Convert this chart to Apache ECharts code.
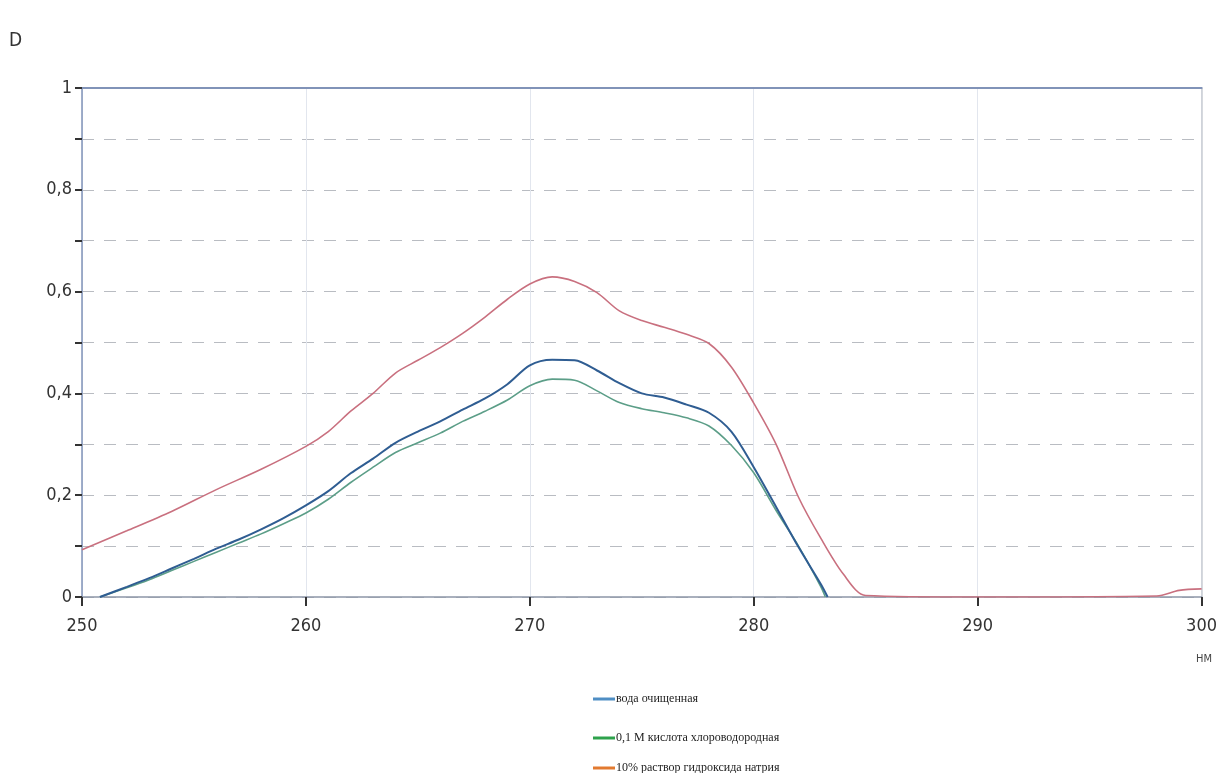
<!DOCTYPE html>
<html>
<head>
<meta charset="utf-8">
<script src="https://cdn.jsdelivr.net/npm/echarts@6/dist/echarts.min.js"></script>
<style>html,body{margin:0;padding:0;background:#fff}#c{width:1220px;height:773px}</style>
</head>
<body>
<div id="c"></div>
<script>
// Series names (legend)
const seriesNames = ['вода очищенная', '0,1 М кислота хлороводородная', '10% раствор гидроксида натрия'];

// Wavelengths (nm) and optical density D for each series
const waterX = [250.8, 252, 253, 254, 255, 256, 257, 258, 259, 260, 261, 262, 263, 264, 265, 266, 267, 268, 269, 270, 271, 272, 273, 274, 275, 276, 277, 278, 279, 280, 281, 282, 283, 283.3];
const waterY = [0, 0.020, 0.037, 0.056, 0.075, 0.095, 0.113, 0.133, 0.155, 0.180, 0.208, 0.243, 0.272, 0.303, 0.325, 0.345, 0.368, 0.390, 0.418, 0.455, 0.466, 0.465, 0.445, 0.420, 0.400, 0.392, 0.378, 0.362, 0.325, 0.255, 0.177, 0.098, 0.025, 0];

const hclX = [250.8, 252, 253, 254, 255, 256, 257, 258, 259, 260, 261, 262, 263, 264, 265, 266, 267, 268, 269, 270, 271, 272, 273, 274, 275, 276, 277, 278, 279, 280, 281, 282, 283, 283.2];
const hclY = [0, 0.018, 0.034, 0.052, 0.070, 0.088, 0.106, 0.124, 0.144, 0.165, 0.192, 0.225, 0.255, 0.284, 0.303, 0.322, 0.345, 0.365, 0.387, 0.415, 0.428, 0.426, 0.405, 0.382, 0.370, 0.362, 0.352, 0.336, 0.298, 0.244, 0.170, 0.100, 0.020, 0];

const naohX = [250, 252, 254, 256, 258, 260, 261, 262, 263, 264, 265, 266, 267, 268, 269, 270, 271, 272, 273, 274, 275, 276, 277, 278, 279, 280, 281, 282, 283, 284, 285, 290, 298, 299, 300];
const naohY = [0.093, 0.130, 0.168, 0.211, 0.251, 0.296, 0.325, 0.365, 0.400, 0.440, 0.465, 0.490, 0.518, 0.550, 0.585, 0.615, 0.629, 0.620, 0.598, 0.562, 0.543, 0.530, 0.516, 0.498, 0.452, 0.381, 0.300, 0.196, 0.115, 0.045, 0.003, 0, 0.002, 0.013, 0.016];

// Axis ticks
const xTicks = [250, 260, 270, 280, 290, 300];
const yTickLabels = ['0', '0,2', '0,4', '0,6', '0,8', '1'];

const lineColors = ['#2f5d92', '#5c9e88', '#c9707f'];
const legendColors = ['#4f8ec4', '#2ea24c', '#e27a30'];

const pairs = (xs, ys) => xs.map((x, i) => [x, ys[i]]);
const axisFont = "'DejaVu Sans Condensed', 'Liberation Sans Narrow', 'DejaVu Sans', sans-serif";

const chart = echarts.init(document.getElementById('c'), null, {renderer: 'canvas'});
const legendTops = [688, 727, 757];
chart.setOption({
  backgroundColor: '#ffffff',
  animation: false,
  grid: {left: 82, right: 13, top: 88, bottom: 176, containLabel: false},
  graphic: [
    {type: 'text', left: 9, top: 32, style: {text: 'D', font: "19px " + axisFont, fill: '#333'}},
    {type: 'text', left: 1196, top: 654, style: {text: 'НМ', font: "11px " + axisFont, fill: '#444'}}
  ],
  legend: seriesNames.map((n, i) => ({
    left: 588, top: legendTops[i], orient: 'vertical',
    icon: 'rect', itemWidth: 22, itemHeight: 3, itemGap: 4,
    textStyle: {fontFamily: "'Liberation Serif', serif", fontSize: 12, color: '#222', padding: [0, 0, 0, -4]},
    data: [{name: n, itemStyle: {color: legendColors[i]}}]
  })),
  xAxis: [{
    type: 'value', min: 250, max: 300, interval: 10,
    axisLine: {show: true, lineStyle: {color: '#8d97a8', width: 1.5}},
    axisTick: {show: true, length: 9, lineStyle: {color: '#333', width: 2}},
    axisLabel: {fontFamily: axisFont, fontSize: 18, color: '#333', margin: 20,
      formatter: v => xTicks.includes(v) ? String(v) : ''},
    splitLine: {show: true, lineStyle: {color: '#e2e6ee', width: 1, type: 'solid'}}
  }, {
    type: 'value', min: 250, max: 300, interval: 10, position: 'top',
    axisLine: {show: true, onZero: false, lineStyle: {color: '#8193b8', width: 2}},
    axisTick: {show: false}, axisLabel: {show: false}, splitLine: {show: false}
  }],
  yAxis: [{
    type: 'value', min: 0, max: 1, interval: 0.1,
    axisLine: {show: true, lineStyle: {color: '#8193b8', width: 1.5}},
    axisTick: {show: true, length: 7, lineStyle: {color: '#333', width: 2}},
    axisLabel: {fontFamily: axisFont, fontSize: 18, color: '#333', margin: 10,
      formatter: v => {
        const k = Math.round(v * 10);
        return k % 2 ? '' : yTickLabels[k / 2];
      }},
    splitLine: {show: true, lineStyle: {color: '#b9bcc2', width: 1, type: [12, 10]}}
  }, {
    type: 'value', min: 0, max: 1, interval: 0.1, position: 'right',
    axisLine: {show: true, onZero: false, lineStyle: {color: '#c9ccd3', width: 1.5}},
    axisTick: {show: false}, axisLabel: {show: false}, splitLine: {show: false}
  }],
  series: [
    {name: seriesNames[0], type: 'line', data: pairs(waterX, waterY), showSymbol: false, smooth: 0.3,
      lineStyle: {color: lineColors[0], width: 2}, itemStyle: {color: lineColors[0]}, z: 3},
    {name: seriesNames[1], type: 'line', data: pairs(hclX, hclY), showSymbol: false, smooth: 0.3,
      lineStyle: {color: lineColors[1], width: 1.6}, itemStyle: {color: lineColors[1]}, z: 2},
    {name: seriesNames[2], type: 'line', data: pairs(naohX, naohY), showSymbol: false, smooth: 0.3,
      lineStyle: {color: lineColors[2], width: 1.6}, itemStyle: {color: lineColors[2]}, z: 2}
  ]
});
</script>
</body>
</html>
